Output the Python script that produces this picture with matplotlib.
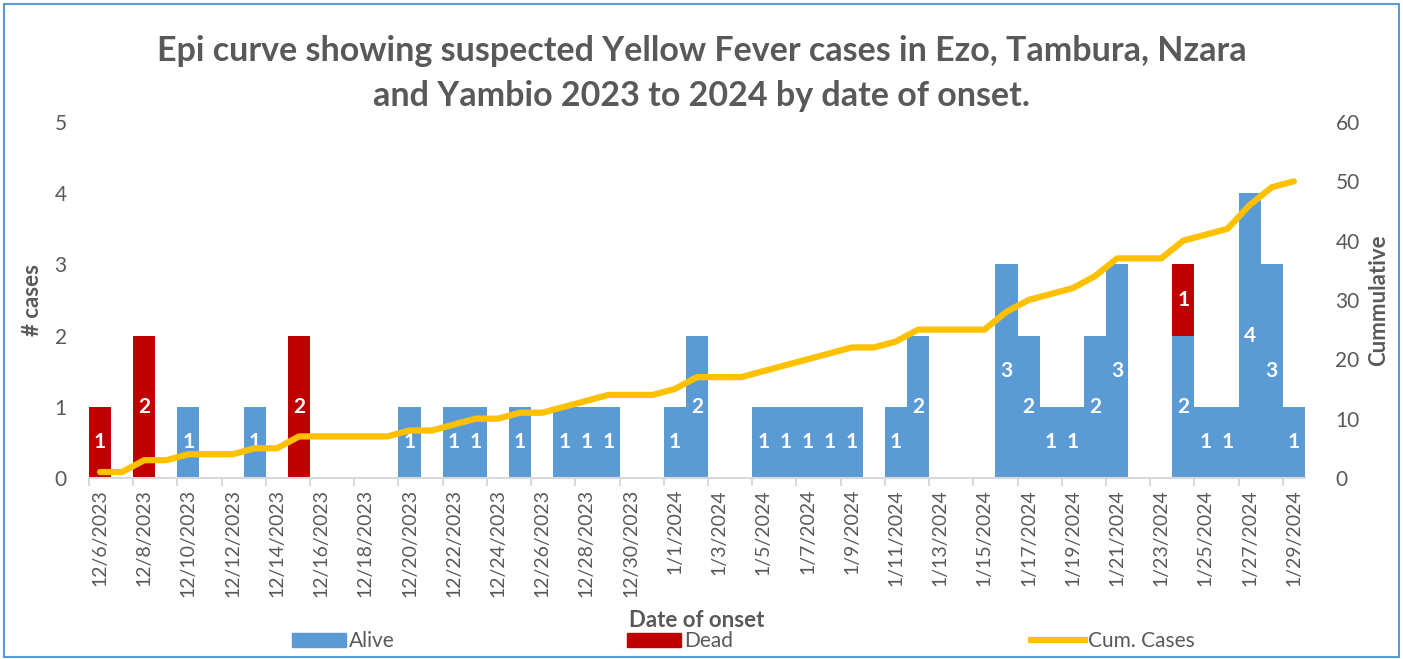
import numpy as np
import matplotlib.pyplot as plt
from matplotlib.patches import Rectangle
from matplotlib.lines import Line2D
from matplotlib.patches import Patch

plt.rcParams['font.family'] = ['Lato', 'DejaVu Sans']

# daily dates 12/6/2023 .. 1/29/2024
dates = [f"12/{d}/2023" for d in range(6, 32)] + [f"1/{d}/2024" for d in range(1, 30)]

# cases per day
alive = [0, 0, 0, 0, 1, 0, 0, 1, 0, 0,
         0, 0, 0, 0, 1, 0, 1, 1, 0, 1,
         0, 1, 1, 1, 0, 0, 1, 2, 0, 0,
         1, 1, 1, 1, 1, 0, 1, 2, 0, 0,
         0, 3, 2, 1, 1, 2, 3, 0, 0, 2,
         1, 1, 4, 3, 1]
dead = [1, 0, 2, 0, 0, 0, 0, 0, 0, 2,
        0, 0, 0, 0, 0, 0, 0, 0, 0, 0,
        0, 0, 0, 0, 0, 0, 0, 0, 0, 0,
        0, 0, 0, 0, 0, 0, 0, 0, 0, 0,
        0, 0, 0, 0, 0, 0, 0, 0, 0, 1,
        0, 0, 0, 0, 0]
cum_cases = [1, 1, 3, 3, 4, 4, 4, 5, 5, 7,
             7, 7, 7, 7, 8, 8, 9, 10, 10, 11,
             11, 12, 13, 14, 14, 14, 15, 17, 17, 17,
             18, 19, 20, 21, 22, 22, 23, 25, 25, 25,
             25, 28, 30, 31, 32, 34, 37, 37, 37, 40,
             41, 42, 46, 49, 50]

blue = '#5B9BD5'
red = '#C00000'
gold = '#FFC000'
grey = '#595959'

fig = plt.figure(figsize=(14.03, 6.59), dpi=100)
ax = fig.add_axes([0.0634, 0.2747, 0.8667, 0.5402])
x = np.arange(len(dates))

ax.bar(x, alive, width=1.0, color=blue, zorder=2)
ax.bar(x, dead, width=1.0, bottom=alive, color=red, zorder=2)

# data labels
for i in x:
    if alive[i] > 0:
        ax.text(i, alive[i] / 2, str(alive[i]), ha='center', va='center',
                color='white', fontsize=15, fontweight='bold', zorder=5)
    if dead[i] > 0:
        ax.text(i, alive[i] + dead[i] / 2, str(dead[i]), ha='center', va='center',
                color='white', fontsize=15, fontweight='bold', zorder=5)

ax.set_xlim(-0.5, len(dates) - 0.5)
ax.set_ylim(0, 5)
ax.set_yticks(range(6))
ax.set_xticks(x[::2])
ax.set_xticklabels(dates[::2], rotation=90, fontsize=14, color=grey)
ax.tick_params(axis='x', length=0, pad=8)
ax.set_xticks(np.arange(-0.5, len(dates), 2), minor=True)
ax.tick_params(axis='x', which='minor', length=6, color='#D9D9D9', width=1.5)
ax.tick_params(axis='y', length=0, labelsize=15, labelcolor=grey, pad=16)
for s in ['top', 'right', 'left']:
    ax.spines[s].set_visible(False)
ax.spines['bottom'].set_color('#D9D9D9')
ax.spines['bottom'].set_linewidth(1.5)
ax.set_ylabel('# cases', fontsize=16, fontweight='bold', color=grey, labelpad=8)
ax.set_xlabel('Date of onset', fontsize=16, fontweight='bold', color=grey, labelpad=9)

ax2 = ax.twinx()
ax2.plot(x, cum_cases, color=gold, linewidth=4.5, solid_capstyle='round', zorder=3)
ax2.set_ylim(0, 60)
ax2.set_yticks(range(0, 61, 10))
ax2.tick_params(axis='y', length=0, labelsize=15, labelcolor=grey, pad=22)
for s in ax2.spines.values():
    s.set_visible(False)
ax2.set_ylabel('Cummulative', fontsize=16, fontweight='bold', color=grey, labelpad=6)

fig.text(0.5, 0.922, 'Epi curve showing suspected Yellow Fever cases in Ezo, Tambura, Nzara',
         ha='center', va='center', fontsize=24.5, fontweight='bold', color=grey)
fig.text(0.5, 0.854, 'and Yambio 2023 to 2024 by date of onset.',
         ha='center', va='center', fontsize=24.5, fontweight='bold', color=grey)

# legend entries spread along the bottom
legend_items = [(Patch(color=blue), 'Alive', 0.208),
                (Patch(color=red), 'Dead', 0.447),
                (Line2D([], [], color=gold, linewidth=4.5), 'Cum. Cases', 0.735)]
for h, lab, xpos in legend_items:
    fig.legend([h], [lab], loc='center left', bbox_to_anchor=(xpos, 0.027),
               frameon=False, fontsize=15, labelcolor=grey, handlelength=2.6,
               handletextpad=0.15, borderaxespad=0, borderpad=0)

fig.patches.append(Rectangle((0.003, 0.003), 0.994, 0.991, transform=fig.transFigure,
                             fill=False, edgecolor='#5B9BD5', linewidth=1.5))

fig.savefig('out.png', dpi=100)
